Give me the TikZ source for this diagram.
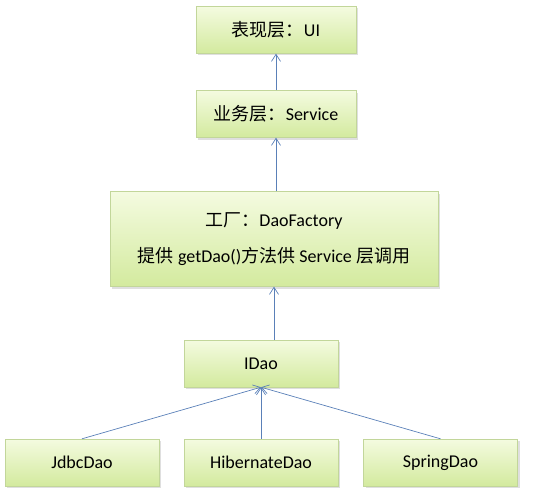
\documentclass[tikz,border=0pt]{standalone}
\usepackage{fontspec}
\setmainfont{Carlito}
\newfontfamily\cjk{Noto Sans CJK SC}
\usetikzlibrary{arrows.meta,shadows}
\definecolor{boxtop}{HTML}{F4FBE0}
\definecolor{boxbot}{HTML}{D3EA9E}
\definecolor{boxline}{HTML}{C2D69A}
\definecolor{linkblue}{HTML}{5A80B8}

\begin{document}
\begin{tikzpicture}[x=1pt,y=-1pt,-{Straight Barb[length=7pt,width=9pt]}]
    \tikzstyle{layer}=[rectangle,draw=boxline,top color=boxtop,bottom color=boxbot,
        drop shadow={shadow xshift=2pt,shadow yshift=-2pt,fill=black!25},
        minimum height=47pt,inner sep=0pt,font=\fontsize{18}{22}\selectfont]
    \tikzstyle{link}=[draw=linkblue,line width=0.7pt]
    \useasboundingbox (0,0) rectangle (540,495);

    \node[layer,minimum width=160pt] (ui) at (276,30) {{\cjk 表现层：}UI};
    \node[layer,minimum width=160pt] (service) at (276,114) {{\cjk 业务层：}Service};
    \node[layer,minimum width=328pt,minimum height=95pt,align=center] (factory) at (274,239)
        {{\cjk 工厂：}DaoFactory\\[14pt]{\cjk 提供}~getDao(){\cjk 方法供}~Service~{\cjk 层调用}};
    \node[layer,minimum width=154pt] (idao) at (261,363.5) {IDao};

    \foreach \name/\x/\txt in {jdbc/82/JdbcDao, hibernate/261/HibernateDao, spring/440.5/SpringDao}
        \node[layer,minimum width=154pt] (\name) at (\x,462.5) {\txt};

    \foreach \from/\to in {service/ui, factory/service, idao/factory}
        \draw[link] (\from.north -| \to.south) -- (\to.south);

    \foreach \from in {jdbc, hibernate, spring}
        \draw[link] (\from.north) -- (idao.south);
\end{tikzpicture}
\end{document}
